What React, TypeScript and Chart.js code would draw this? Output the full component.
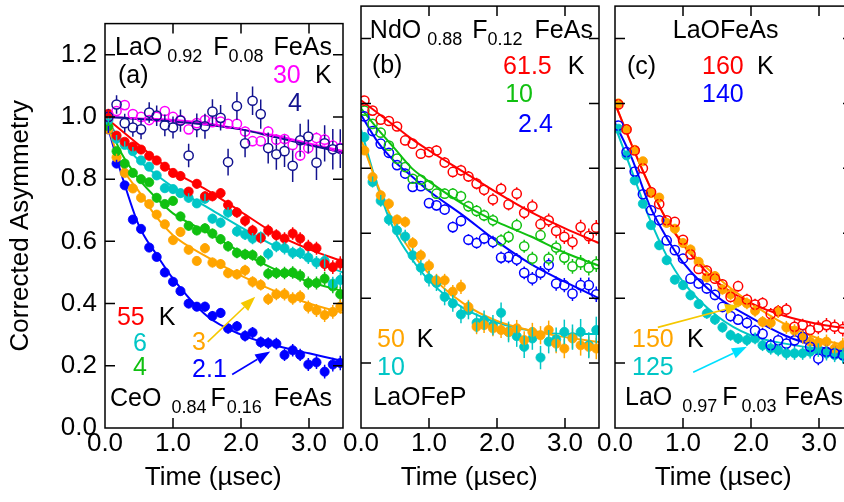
import React, { useEffect, useRef } from "react";
import { Chart, registerables } from "chart.js";
Chart.register(...registerables);

const FONT = '"Liberation Sans", Arial, Helvetica, sans-serif';

// ---------- shared axes ----------
const xTickValues = [0, 1, 2, 3];
const yTickValues = [0, 0.2, 0.4, 0.6, 0.8, 1.0, 1.2];
const times = [0.05, 0.17, 0.29, 0.41, 0.53, 0.65, 0.76, 0.88, 1.0, 1.11, 1.23, 1.35, 1.47, 1.58, 1.7, 1.81, 1.94, 2.06, 2.17, 2.29, 2.4, 2.52, 2.64, 2.76, 2.87, 2.99, 3.11, 3.23, 3.35, 3.46];
const fitT = [0, 0.25, 0.5, 0.75, 1.0, 1.5, 2.0, 2.5, 3.0, 3.5];

// ---------- panel (a) ----------
const red55 = [1.01, 0.94, 0.92, 0.905, 0.895, 0.875, 0.86, 0.84, 0.82, 0.81, 0.76, 0.785, 0.745, 0.745, 0.755, 0.717, 0.693, 0.666, 0.635, 0.611, 0.635, 0.62, 0.609, 0.625, 0.609, 0.584, 0.578, 0.527, 0.517, 0.529];
const cyan6 = [0.99, 0.93, 0.91, 0.89, 0.86, 0.84, 0.812, 0.771, 0.768, 0.755, 0.74, 0.722, 0.737, 0.673, 0.66, 0.693, 0.632, 0.622, 0.609, 0.614, 0.56, 0.584, 0.578, 0.563, 0.563, 0.548, 0.532, 0.537, 0.464, 0.476];
const green4 = [0.97, 0.89, 0.85, 0.82, 0.8, 0.79, 0.74, 0.72, 0.73, 0.68, 0.65, 0.635, 0.642, 0.625, 0.607, 0.584, 0.563, 0.558, 0.556, 0.537, 0.496, 0.498, 0.498, 0.5, 0.49, 0.466, 0.466, 0.48, 0.455, 0.43];
const orange3 = [0.96, 0.87, 0.82, 0.77, 0.74, 0.72, 0.686, 0.655, 0.604, 0.63, 0.573, 0.537, 0.578, 0.532, 0.527, 0.498, 0.494, 0.507, 0.47, 0.46, 0.414, 0.43, 0.43, 0.416, 0.423, 0.389, 0.378, 0.363, 0.373, 0.39];
const blue21 = [0.96, 0.85, 0.78, 0.67, 0.64, 0.58, 0.55, 0.5, 0.47, 0.44, 0.4, 0.39, 0.39, 0.36, 0.37, 0.32, 0.327, 0.296, 0.307, 0.276, 0.273, 0.271, 0.235, 0.25, 0.235, 0.204, 0.211, 0.181, 0.204, 0.209];
const magenta30 = [1.0, 1.019, 1.038, 1.009, 1.0, 0.99, 1.0, 1.019, 1.0, 0.99, 0.96, 0.98, 0.99, 0.983, 0.985, 0.978, 0.978, 0.953, 0.922, 0.922, 0.953, 0.927, 0.929, 0.91, 0.876, 0.9, 0.932, 0.927, 0.908, 0.9];
const navy4 = [1.0, 1.04, 0.98, 0.966, 0.96, 1.014, 1.004, 0.973, 0.966, 0.988, 0.876, 0.973, 0.97, 1.017, 0.997, 0.855, 1.035, 0.915, 1.052, 1.009, 0.9, 0.88, 0.89, 0.843, 0.925, 0.937, 0.853, 0.915, 0.896, 0.898];

const fitRed55 = [1.0, 0.955, 0.91, 0.865, 0.825, 0.765, 0.695, 0.625, 0.575, 0.535];
const fitCyan6 = [1.0, 0.92, 0.86, 0.815, 0.775, 0.71, 0.645, 0.585, 0.54, 0.5];
const fitGreen4 = [1.0, 0.88, 0.8, 0.74, 0.69, 0.63, 0.565, 0.51, 0.47, 0.44];
const fitOrange3 = [1.0, 0.84, 0.76, 0.68, 0.62, 0.55, 0.49, 0.44, 0.4, 0.37];
const fitBlue21 = [1.0, 0.81, 0.65, 0.56, 0.48, 0.36, 0.3, 0.265, 0.24, 0.215];
const fitMagenta30 = [1.0, 0.998, 0.995, 0.993, 0.99, 0.98, 0.96, 0.94, 0.915, 0.89];
const fitNavy4 = [1.0, 0.997, 0.993, 0.99, 0.985, 0.975, 0.96, 0.935, 0.91, 0.885];

// ---------- panel (b) ----------
const red615 = [1.009, 0.978, 0.95, 0.946, 0.929, 0.886, 0.876, 0.845, 0.85, 0.855, 0.818, 0.789, 0.794, 0.775, 0.753, 0.734, 0.704, 0.737, 0.689, 0.722, 0.663, 0.683, 0.628, 0.64, 0.607, 0.589, 0.573, 0.619, 0.591, 0.617];
const green10 = [0.978, 0.937, 0.91, 0.87, 0.83, 0.804, 0.768, 0.765, 0.748, 0.722, 0.722, 0.722, 0.714, 0.683, 0.669, 0.655, 0.64, 0.578, 0.589, 0.625, 0.56, 0.522, 0.594, 0.522, 0.556, 0.525, 0.498, 0.51, 0.494, 0.505];
const blue24 = [0.96, 0.915, 0.876, 0.848, 0.81, 0.784, 0.743, 0.745, 0.693, 0.686, 0.673, 0.619, 0.638, 0.58, 0.57, 0.584, 0.573, 0.525, 0.527, 0.519, 0.478, 0.46, 0.478, 0.502, 0.445, 0.44, 0.414, 0.44, 0.44, 0.412];
const orange50 = [0.855, 0.773, 0.717, 0.691, 0.642, 0.635, 0.57, 0.532, 0.5, 0.455, 0.455, 0.42, 0.435, 0.373, 0.312, 0.317, 0.307, 0.302, 0.296, 0.307, 0.271, 0.296, 0.286, 0.302, 0.26, 0.245, 0.276, 0.255, 0.25, 0.245];
const cyan10 = [0.896, 0.758, 0.7, 0.642, 0.609, 0.59, 0.532, 0.494, 0.46, 0.447, 0.404, 0.384, 0.35, 0.363, 0.324, 0.332, 0.317, 0.355, 0.296, 0.283, 0.25, 0.276, 0.217, 0.266, 0.273, 0.296, 0.28, 0.296, 0.255, 0.302];

const fitRed615 = [1.01, 0.97, 0.93, 0.89, 0.855, 0.79, 0.725, 0.665, 0.615, 0.57];
const fitGreen10 = [0.985, 0.92, 0.86, 0.8, 0.76, 0.69, 0.635, 0.59, 0.54, 0.5];
const fitBlue24 = [0.965, 0.88, 0.82, 0.775, 0.73, 0.655, 0.575, 0.505, 0.45, 0.4];
const fitOrange50 = [0.89, 0.745, 0.625, 0.54, 0.475, 0.385, 0.33, 0.3, 0.28, 0.265];
const fitCyan10 = [0.92, 0.74, 0.605, 0.52, 0.455, 0.37, 0.325, 0.3, 0.29, 0.29];

// ---------- panel (c) ----------
const red160 = [0.997, 0.92, 0.855, 0.8, 0.727, 0.69, 0.64, 0.635, 0.58, 0.535, 0.49, 0.485, 0.46, 0.443, 0.404, 0.437, 0.396, 0.38, 0.385, 0.351, 0.36, 0.365, 0.312, 0.317, 0.302, 0.31, 0.317, 0.312, 0.305, 0.3];
const orange150 = [1.0, 0.921, 0.857, 0.822, 0.724, 0.71, 0.632, 0.614, 0.57, 0.55, 0.512, 0.464, 0.468, 0.427, 0.412, 0.389, 0.384, 0.361, 0.327, 0.324, 0.358, 0.31, 0.3, 0.28, 0.266, 0.263, 0.266, 0.245, 0.255, 0.25];
const blue140 = [0.932, 0.85, 0.79, 0.72, 0.671, 0.64, 0.578, 0.548, 0.522, 0.46, 0.445, 0.43, 0.41, 0.373, 0.345, 0.334, 0.324, 0.3, 0.29, 0.255, 0.27, 0.26, 0.27, 0.281, 0.25, 0.214, 0.235, 0.23, 0.225, 0.22];
const cyan125 = [0.922, 0.84, 0.763, 0.691, 0.625, 0.563, 0.517, 0.457, 0.44, 0.409, 0.382, 0.353, 0.334, 0.31, 0.286, 0.276, 0.271, 0.276, 0.255, 0.245, 0.24, 0.23, 0.23, 0.23, 0.235, 0.24, 0.23, 0.225, 0.222, 0.22];

const fitRed160 = [1.0, 0.87, 0.75, 0.645, 0.565, 0.45, 0.385, 0.345, 0.32, 0.305];
const fitOrange150 = [1.0, 0.87, 0.75, 0.645, 0.57, 0.465, 0.385, 0.32, 0.275, 0.25];
const fitBlue140 = [0.94, 0.83, 0.69, 0.59, 0.51, 0.405, 0.34, 0.285, 0.25, 0.23];
const fitCyan125 = [0.93, 0.79, 0.65, 0.535, 0.45, 0.345, 0.285, 0.26, 0.245, 0.24];

// ---------- error bars ----------
const errFilledA = [0.012, 0.012, 0.012, 0.013, 0.013, 0.013, 0.014, 0.014, 0.014, 0.015, 0.015, 0.015, 0.016, 0.016, 0.016, 0.017, 0.017, 0.018, 0.018, 0.018, 0.019, 0.019, 0.02, 0.02, 0.02, 0.021, 0.021, 0.022, 0.022, 0.023];
const errMagenta = [0.01, 0.01, 0.011, 0.011, 0.011, 0.012, 0.012, 0.012, 0.013, 0.013, 0.013, 0.014, 0.014, 0.014, 0.015, 0.015, 0.015, 0.016, 0.016, 0.016, 0.017, 0.017, 0.017, 0.018, 0.018, 0.018, 0.019, 0.019, 0.019, 0.02];
const errNavy = [0.025, 0.03, 0.03, 0.03, 0.032, 0.033, 0.033, 0.035, 0.035, 0.036, 0.038, 0.038, 0.04, 0.04, 0.041, 0.043, 0.045, 0.045, 0.046, 0.047, 0.05, 0.05, 0.051, 0.052, 0.053, 0.055, 0.056, 0.058, 0.065, 0.062];
const errOpenB = [0.013, 0.013, 0.014, 0.014, 0.014, 0.015, 0.015, 0.015, 0.016, 0.016, 0.016, 0.017, 0.017, 0.017, 0.018, 0.018, 0.019, 0.019, 0.019, 0.02, 0.02, 0.021, 0.021, 0.021, 0.022, 0.022, 0.023, 0.023, 0.024, 0.024];
const errOrangeB = [0.013, 0.014, 0.015, 0.016, 0.016, 0.017, 0.018, 0.018, 0.019, 0.02, 0.02, 0.021, 0.022, 0.022, 0.023, 0.024, 0.024, 0.025, 0.026, 0.026, 0.027, 0.028, 0.028, 0.029, 0.03, 0.03, 0.031, 0.032, 0.032, 0.033];
const errCyanB = [0.016, 0.017, 0.018, 0.019, 0.02, 0.021, 0.022, 0.023, 0.024, 0.025, 0.026, 0.026, 0.027, 0.028, 0.029, 0.03, 0.031, 0.032, 0.032, 0.033, 0.034, 0.035, 0.036, 0.036, 0.037, 0.038, 0.039, 0.04, 0.04, 0.041];
const errC = [0.012, 0.012, 0.013, 0.013, 0.013, 0.014, 0.014, 0.014, 0.015, 0.015, 0.015, 0.016, 0.016, 0.016, 0.017, 0.017, 0.018, 0.018, 0.018, 0.019, 0.019, 0.02, 0.02, 0.02, 0.021, 0.021, 0.022, 0.022, 0.023, 0.023];

// ---------- colours ----------
const RED = "#ff0000";
const CYAN = "#00c6c6";
const GREEN = "#10c010";
const ORANGE = "#ffa500";
const BLUE = "#0000ff";
const NAVY = "#12128f";
const MAGENTA = "#ff00ff";
const YELLOW = "#f5c800";
const ARROW_CYAN = "#00e0ff";

type Series = { ys: (number | null)[]; errs: number[]; fit: number[]; color: string; open: boolean };
type Part = { t: string; c?: string; sub?: boolean; gap?: number };
type Label = { x: number; y: number; parts: Part[] };
type Arrow = { x1: number; y1: number; x2: number; y2: number; c: string };
type Spec = { left: number; right: number; showY: boolean; series: Series[]; labels: Label[]; arrows: Arrow[] };

const CW = 863;
const CH = 502;

const specs: Spec[] = [
  {
    left: 105,
    right: 343,
    showY: true,
    series: [
      { ys: navy4, errs: errNavy, fit: fitNavy4, color: NAVY, open: true },
      { ys: magenta30, errs: errMagenta, fit: fitMagenta30, color: MAGENTA, open: true },
      { ys: red55, errs: errFilledA, fit: fitRed55, color: RED, open: false },
      { ys: cyan6, errs: errFilledA, fit: fitCyan6, color: CYAN, open: false },
      { ys: green4, errs: errFilledA, fit: fitGreen4, color: GREEN, open: false },
      { ys: orange3, errs: errFilledA, fit: fitOrange3, color: ORANGE, open: false },
      { ys: blue21, errs: errFilledA, fit: fitBlue21, color: BLUE, open: false },
    ],
    labels: [
      { x: 0.147, y: 1.2, parts: [{ t: "LaO" }, { t: "0.92", sub: true, gap: 5 }, { t: "F", gap: 11 }, { t: "0.08", sub: true, gap: 0 }, { t: "FeAs", gap: 10 }] },
      { x: 0.19, y: 1.108, parts: [{ t: "(a)" }] },
      { x: 2.47, y: 1.11, parts: [{ t: "30", c: MAGENTA }] },
      { x: 3.09, y: 1.11, parts: [{ t: "K" }] },
      { x: 2.69, y: 1.02, parts: [{ t: "4", c: NAVY }] },
      { x: 0.176, y: 0.332, parts: [{ t: "55", c: RED }] },
      { x: 0.79, y: 0.332, parts: [{ t: "K" }] },
      { x: 0.41, y: 0.246, parts: [{ t: "6", c: CYAN }] },
      { x: 0.41, y: 0.169, parts: [{ t: "4", c: GREEN }] },
      { x: 1.28, y: 0.25, parts: [{ t: "3", c: ORANGE }] },
      { x: 1.28, y: 0.163, parts: [{ t: "2.1", c: BLUE }] },
      { x: 0.074, y: 0.071, parts: [{ t: "CeO" }, { t: "0.84", sub: true, gap: 10 }, { t: "F", gap: 4 }, { t: "0.16", sub: true, gap: 1 }, { t: "FeAs", gap: 12 }] },
    ],
    arrows: [
      { x1: 1.51, y1: 0.277, x2: 2.21, y2: 0.422, c: YELLOW },
      { x1: 1.87, y1: 0.172, x2: 2.43, y2: 0.246, c: BLUE },
    ],
  },
  {
    left: 361,
    right: 599,
    showY: false,
    series: [
      { ys: red615, errs: errOpenB, fit: fitRed615, color: RED, open: true },
      { ys: green10, errs: errOpenB, fit: fitGreen10, color: GREEN, open: true },
      { ys: blue24, errs: errOpenB, fit: fitBlue24, color: BLUE, open: true },
      { ys: orange50, errs: errOrangeB, fit: fitOrange50, color: ORANGE, open: false },
      { ys: cyan10, errs: errCyanB, fit: fitCyan10, color: CYAN, open: false },
    ],
    labels: [
      { x: 0.13, y: 1.203, parts: [{ t: "NdO" }, { t: "0.88", sub: true, gap: 6 }, { t: "F", gap: 10 }, { t: "0.12", sub: true, gap: 0 }, { t: "FeAs", gap: 12 }] },
      { x: 0.16, y: 1.095, parts: [{ t: "(b)" }] },
      { x: 2.09, y: 1.092, parts: [{ t: "61.5", c: RED }] },
      { x: 3.04, y: 1.092, parts: [{ t: "K" }] },
      { x: 2.12, y: 1.004, parts: [{ t: "10", c: GREEN }] },
      { x: 2.31, y: 0.912, parts: [{ t: "2.4", c: BLUE }] },
      { x: 0.235, y: 0.249, parts: [{ t: "50", c: ORANGE }] },
      { x: 0.82, y: 0.249, parts: [{ t: "K" }] },
      { x: 0.235, y: 0.163, parts: [{ t: "10", c: CYAN }] },
      { x: 0.18, y: 0.071, parts: [{ t: "LaOFeP" }] },
    ],
    arrows: [],
  },
  {
    left: 615,
    right: 853,
    showY: false,
    series: [
      { ys: red160, errs: errC, fit: fitRed160, color: RED, open: true },
      { ys: blue140, errs: errC, fit: fitBlue140, color: BLUE, open: true },
      { ys: orange150, errs: errC, fit: fitOrange150, color: ORANGE, open: false },
      { ys: cyan125, errs: errC, fit: fitCyan125, color: CYAN, open: false },
    ],
    labels: [
      { x: 0.85, y: 1.203, parts: [{ t: "LaOFeAs" }] },
      { x: 0.175, y: 1.092, parts: [{ t: "(c)" }] },
      { x: 1.28, y: 1.092, parts: [{ t: "160", c: RED }] },
      { x: 2.09, y: 1.092, parts: [{ t: "K" }] },
      { x: 1.28, y: 1.004, parts: [{ t: "140", c: BLUE }] },
      { x: 0.25, y: 0.25, parts: [{ t: "150", c: ORANGE }] },
      { x: 1.06, y: 0.25, parts: [{ t: "K" }] },
      { x: 0.25, y: 0.163, parts: [{ t: "125", c: CYAN }] },
      { x: 0.147, y: 0.071, parts: [{ t: "LaO" }, { t: "0.97", sub: true, gap: 10 }, { t: "F", gap: 5 }, { t: "0.03", sub: true, gap: 4 }, { t: "FeAs", gap: 8 }] },
    ],
    arrows: [
      { x1: 0.63, y1: 0.31, x2: 1.84, y2: 0.378, c: YELLOW },
      { x1: 1.15, y1: 0.172, x2: 1.94, y2: 0.25, c: ARROW_CYAN },
    ],
  },
];

const RADIUS = 4.6;

const errorBarPlugin = {
  id: "errorBars",
  afterDatasetsDraw(chart: any) {
    const { ctx, chartArea: a } = chart;
    const ys = chart.scales.y;
    ctx.save();
    ctx.beginPath();
    ctx.rect(a.left, a.top, a.right - a.left, a.bottom - a.top);
    ctx.clip();
    ctx.lineWidth = 1.5;
    chart.data.datasets.forEach((ds: any, i: number) => {
      if (!ds.hasErr) return;
      const meta = chart.getDatasetMeta(i);
      ctx.strokeStyle = ds.pointBorderColor;
      meta.data.forEach((el: any, j: number) => {
        const p = ds.data[j];
        if (!p || p.y == null) return;
        const top = ys.getPixelForValue(p.y + p.e);
        const bot = ys.getPixelForValue(p.y - p.e);
        ctx.beginPath();
        if (ds.isOpen) {
          if (top < el.y - RADIUS) {
            ctx.moveTo(el.x, top);
            ctx.lineTo(el.x, el.y - RADIUS);
            ctx.moveTo(el.x, el.y + RADIUS);
            ctx.lineTo(el.x, bot);
          }
        } else {
          ctx.moveTo(el.x, top);
          ctx.lineTo(el.x, bot);
        }
        ctx.stroke();
      });
    });
    ctx.restore();
  },
};

function makeDecor(spec: Spec) {
  return {
    id: "decor",
    afterDraw(chart: any) {
      const { ctx, chartArea: a } = chart;
      const xs = chart.scales.x;
      const ys = chart.scales.y;
      ctx.save();
      // frame and inward ticks
      ctx.strokeStyle = "#000";
      ctx.lineWidth = 1.5;
      ctx.strokeRect(a.left, a.top, a.right - a.left, a.bottom - a.top);
      ctx.beginPath();
      xTickValues.forEach((v) => {
        if (v <= 0) return;
        const px = xs.getPixelForValue(v);
        ctx.moveTo(px, a.bottom);
        ctx.lineTo(px, a.bottom - 10);
        ctx.moveTo(px, a.top);
        ctx.lineTo(px, a.top + 10);
      });
      yTickValues.forEach((v) => {
        if (v <= 0) return;
        const py = ys.getPixelForValue(v);
        ctx.moveTo(a.left, py);
        ctx.lineTo(a.left + 10, py);
        ctx.moveTo(a.right, py);
        ctx.lineTo(a.right - 10, py);
      });
      ctx.stroke();
      // arrows
      spec.arrows.forEach((ar) => {
        const x1 = xs.getPixelForValue(ar.x1);
        const y1 = ys.getPixelForValue(ar.y1);
        const x2 = xs.getPixelForValue(ar.x2);
        const y2 = ys.getPixelForValue(ar.y2);
        const ang = Math.atan2(y2 - y1, x2 - x1);
        const hl = 15;
        const hw = 5.5;
        const bx = x2 - hl * Math.cos(ang);
        const by = y2 - hl * Math.sin(ang);
        ctx.strokeStyle = ar.c;
        ctx.fillStyle = ar.c;
        ctx.lineWidth = 1.6;
        ctx.beginPath();
        ctx.moveTo(x1, y1);
        ctx.lineTo(bx, by);
        ctx.stroke();
        ctx.beginPath();
        ctx.moveTo(x2, y2);
        ctx.lineTo(bx + hw * Math.sin(ang), by - hw * Math.cos(ang));
        ctx.lineTo(bx - hw * Math.sin(ang), by + hw * Math.cos(ang));
        ctx.closePath();
        ctx.fill();
      });
      // labels
      ctx.textBaseline = "alphabetic";
      ctx.textAlign = "left";
      spec.labels.forEach((lab) => {
        let cx = xs.getPixelForValue(lab.x);
        const cy = ys.getPixelForValue(lab.y);
        lab.parts.forEach((p) => {
          cx += p.gap || 0;
          ctx.font = p.sub ? `18px ${FONT}` : `25px ${FONT}`;
          ctx.fillStyle = p.c || "#000";
          ctx.fillText(p.t, cx, p.sub ? cy + 7 : cy);
          cx += ctx.measureText(p.t).width;
        });
      });
      ctx.restore();
    },
  };
}

function Panel({ spec }: { spec: Spec }) {
  const ref = useRef<HTMLCanvasElement>(null);
  useEffect(() => {
    if (!ref.current) return;
    const datasets: any[] = [];
    spec.series.forEach((s) => {
      datasets.push({
        type: "line",
        data: times
          .map((t, i) => ({ x: t, y: s.ys[i], e: s.errs[i] }))
          .filter((p) => p.y !== null && p.y !== undefined),
        showLine: false,
        pointRadius: RADIUS,
        pointHoverRadius: RADIUS,
        pointBackgroundColor: s.open ? "rgba(0,0,0,0)" : s.color,
        pointBorderColor: s.color,
        pointBorderWidth: s.open ? 1.5 : 0.8,
        borderColor: s.color,
        backgroundColor: s.color,
        isOpen: s.open,
        hasErr: true,
        order: 1,
      });
    });
    spec.series.forEach((s) => {
      datasets.push({
        type: "line",
        data: fitT.map((t, i) => ({ x: t, y: s.fit[i] })),
        borderColor: s.color,
        borderWidth: 2,
        pointRadius: 0,
        cubicInterpolationMode: "monotone",
        fill: false,
        order: 2,
      });
    });
    const axisFont = { family: FONT, size: 26 };
    const chart = new Chart(ref.current, {
      type: "line",
      data: { datasets },
      options: {
        animation: false,
        responsive: false,
        devicePixelRatio: 1,
        events: [],
        layout: { padding: { left: spec.showY ? 0 : spec.left, right: CW - spec.right, top: 5, bottom: 0 } },
        plugins: { legend: { display: false }, tooltip: { enabled: false } },
        scales: {
          x: {
            type: "linear",
            min: 0,
            max: 3.5,
            grid: { display: false, drawTicks: false },
            border: { display: false },
            afterBuildTicks: (s: any) => {
              s.ticks = xTickValues.map((v) => ({ value: v }));
            },
            ticks: {
              callback: (v: any) => Number(v).toFixed(1),
              font: axisFont,
              color: "#000",
              padding: 0,
              maxRotation: 0,
              autoSkip: false,
            },
            title: { display: true, text: "Time (µsec)   ", font: axisFont, color: "#000", padding: { top: 0, bottom: 9 } },
            afterFit: (s: any) => {
              s.height = 74;
            },
          },
          y: {
            type: "linear",
            min: 0,
            max: 1.3,
            display: spec.showY,
            grid: { display: false, drawTicks: false },
            border: { display: false },
            afterBuildTicks: (s: any) => {
              s.ticks = yTickValues.map((v) => ({ value: v }));
            },
            ticks: { callback: (v: any) => Number(v).toFixed(1), font: axisFont, color: "#000", padding: 8 },
            title: { display: true, text: "Corrected Asymmetry", font: axisFont, color: "#000", padding: { top: 5, bottom: 0 } },
            afterFit: (s: any) => {
              s.width = spec.showY ? 105 : 0;
            },
          },
        },
      } as any,
      plugins: [errorBarPlugin, makeDecor(spec)],
    });
    return () => chart.destroy();
  }, [spec]);
  return <canvas ref={ref} width={CW} height={CH} style={{ position: "absolute", left: 0, top: 0 }} />;
}

export default function App() {
  return (
    <div style={{ position: "fixed", left: 0, top: 0, width: 844, height: 502, overflow: "hidden", background: "#fff" }}>
      {specs.map((s, i) => (
        <Panel key={i} spec={s} />
      ))}
    </div>
  );
}
